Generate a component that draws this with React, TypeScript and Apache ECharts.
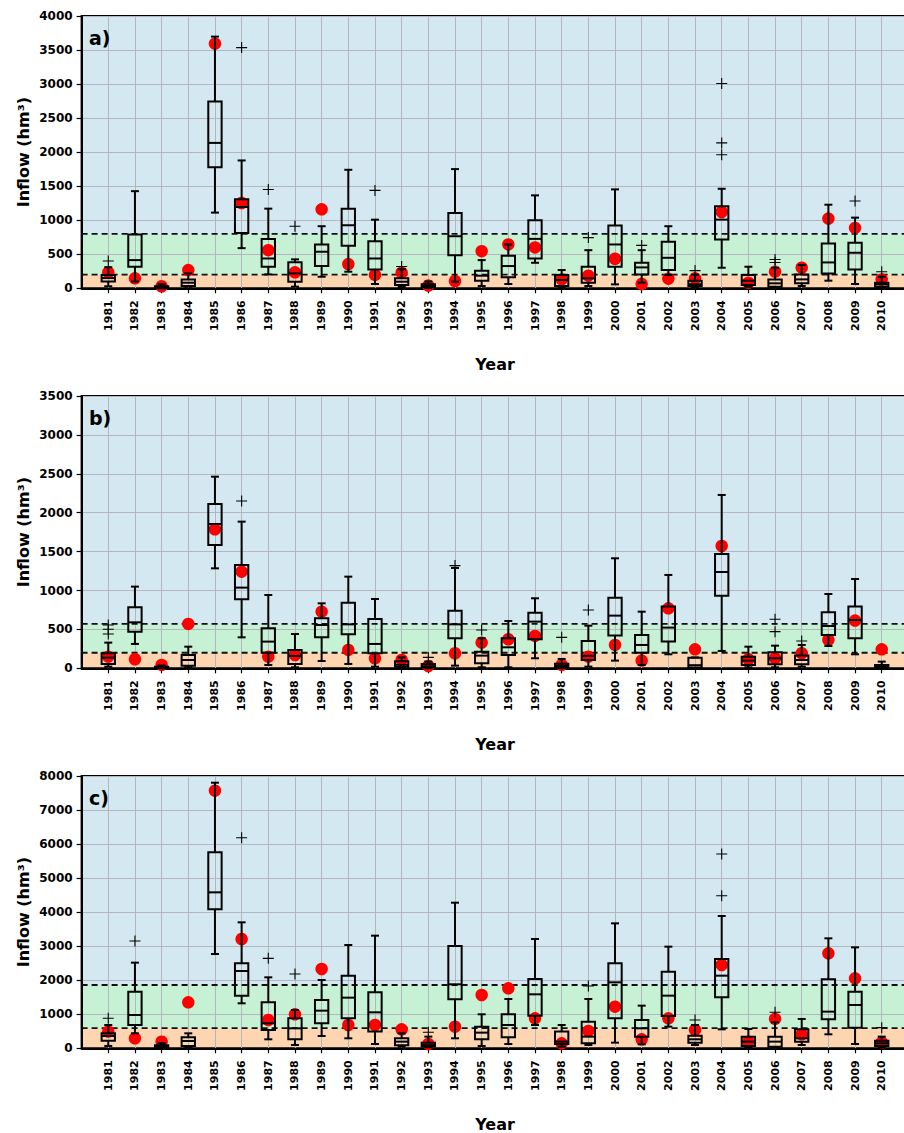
import React, { useEffect, useRef } from "react";
import * as echarts from "echarts";

const years = [1981, 1982, 1983, 1984, 1985, 1986, 1987, 1988, 1989, 1990, 1991, 1992, 1993, 1994, 1995, 1996, 1997, 1998, 1999, 2000, 2001, 2002, 2003, 2004, 2005, 2006, 2007, 2008, 2009, 2010];
const panelLabels = ["a)", "b)", "c)"];
const yMax = [4000, 3500, 8000];
const yStep = [500, 500, 1000];
const thresholdsA = [200, 800];
const thresholdsB = [200, 570];
const thresholdsC = [590, 1860];

// Panel a
const minA = [30, 100, 0, 24, 1112, 590, 204, 24, 170, 244, 63, 20, 5, 97, 33, 63, 375, 14, 33, 58, 83, 195, 10, 302, 24, 10, 33, 112, 63, 10];
const q1A = [100, 317, 5, 33, 1780, 814, 317, 97, 327, 624, 277, 49, 20, 487, 112, 161, 438, 33, 83, 317, 204, 268, 35, 717, 49, 24, 73, 219, 277, 24];
const medA = [150, 414, 15, 82, 2136, 1194, 438, 219, 537, 926, 438, 97, 35, 765, 185, 327, 726, 122, 146, 644, 307, 448, 60, 1009, 112, 73, 131, 380, 522, 58];
const q3A = [195, 789, 30, 130, 2745, 1307, 726, 381, 644, 1170, 692, 146, 60, 1107, 258, 478, 999, 195, 317, 922, 375, 683, 110, 1204, 195, 131, 204, 658, 668, 83];
const maxA = [310, 1427, 60, 219, 3697, 1878, 1170, 425, 912, 1741, 1008, 280, 100, 1751, 414, 644, 1365, 268, 560, 1453, 560, 912, 200, 1462, 317, 300, 341, 1228, 1038, 170];
const obsA = [235, 146, 30, 268, 3594, 1253, 560, 235, 1160, 356, 196, 229, 40, 107, 546, 644, 600, 130, 185, 434, 63, 141, 146, 1121, 83, 244, 302, 1024, 887, 131];
const outA = [[1981, 400], [1986, 3536], [1987, 1452], [1988, 912], [1991, 1438], [1992, 320], [1999, 745], [2001, 630], [2003, 260], [2004, 3008], [2004, 2136], [2004, 1961], [2006, 424], [2006, 380], [2009, 1282], [2010, 244]];

// Panel b
const minB = [21, 313, 0, 13, 1285, 398, 43, 13, 94, 56, 21, 5, 2, 34, 13, 13, 129, 2, 21, 99, 43, 180, 0, 223, 13, 13, 21, 287, 180, 0];
const q1B = [56, 471, 5, 34, 1585, 887, 201, 56, 398, 437, 193, 20, 13, 386, 64, 171, 373, 10, 107, 420, 201, 343, 10, 934, 43, 51, 51, 428, 386, 9];
const medB = [137, 591, 10, 107, 1855, 1037, 343, 159, 557, 565, 313, 45, 25, 565, 163, 270, 600, 30, 160, 677, 300, 523, 40, 1238, 99, 129, 107, 544, 621, 20];
const q3B = [193, 784, 20, 171, 2112, 1328, 514, 236, 643, 844, 634, 90, 56, 741, 214, 386, 715, 60, 351, 908, 428, 793, 135, 1469, 150, 206, 163, 720, 793, 43];
const maxB = [330, 1050, 35, 278, 2463, 1885, 942, 441, 835, 1178, 891, 140, 86, 1290, 386, 608, 900, 120, 548, 1414, 728, 1200, 140, 2228, 278, 291, 300, 955, 1148, 86];
const obsB = [150, 116, 43, 570, 1786, 1242, 150, 171, 728, 236, 129, 107, 30, 193, 330, 373, 416, 43, 150, 300, 99, 771, 244, 1572, 116, 129, 193, 364, 613, 244];
const outB = [[1981, 557], [1981, 501], [1981, 440], [1986, 2150], [1993, 140], [1994, 1320], [1995, 493], [1998, 398], [1999, 750], [2006, 630], [2006, 471], [2007, 351]];

// Panel c
const minC = [69, 440, 0, 29, 2771, 1322, 264, 98, 362, 294, 127, 49, 29, 294, 69, 127, 685, 49, 98, 166, 117, 636, 98, 558, 29, 20, 98, 411, 127, 29];
const q1C = [225, 685, 20, 69, 4082, 1547, 538, 264, 734, 881, 490, 88, 50, 1439, 264, 323, 959, 127, 147, 881, 343, 950, 166, 1498, 69, 49, 196, 852, 607, 69];
const medC = [362, 979, 50, 215, 4582, 2271, 734, 587, 1106, 1488, 1057, 196, 90, 1880, 460, 685, 1586, 196, 343, 1938, 587, 1547, 264, 2134, 196, 196, 294, 1077, 1273, 147];
const q3C = [440, 1664, 90, 323, 5757, 2496, 1351, 881, 1420, 2134, 1645, 294, 166, 3005, 636, 999, 2036, 490, 783, 2496, 832, 2252, 372, 2624, 343, 343, 558, 2027, 1664, 225];
const maxC = [685, 2516, 150, 440, 7803, 3701, 2085, 1126, 2007, 3035, 3309, 440, 343, 4278, 999, 1449, 3211, 685, 1449, 3671, 1253, 2986, 685, 3887, 568, 764, 862, 3231, 2966, 343];
const obsC = [490, 294, 196, 1351, 7568, 3211, 832, 999, 2330, 685, 685, 558, 127, 636, 1566, 1762, 881, 147, 509, 1224, 264, 881, 538, 2448, 196, 862, 411, 2790, 2056, 176];
const outC = [[1981, 881], [1982, 3152], [1986, 6187], [1987, 2643], [1988, 2183], [1993, 470], [1999, 1831], [2003, 832], [2004, 5708], [2004, 4484], [2006, 1057], [2010, 607]];

const BAND_COLORS = ["#fdd6b1", "#c6f1d5", "#d3e8f0"];
const FONT = "DejaVu Sans";

const panelData = [
  { min: minA, q1: q1A, med: medA, q3: q3A, max: maxA, obs: obsA, out: outA, thr: thresholdsA },
  { min: minB, q1: q1B, med: medB, q3: q3B, max: maxB, obs: obsB, out: outB, thr: thresholdsB },
  { min: minC, q1: q1C, med: medC, q3: q3C, max: maxC, obs: obsC, out: outC, thr: thresholdsC },
];

const GRID_TOPS = [16, 396, 776];
const GRID_H = 272.3;
const GRID_LEFT = 81.6;
const GRID_W = 826.8;
const X_MIN = 1980;
const X_MAX = 2011;

function buildOption() {
  const grid: any[] = [];
  const xAxis: any[] = [];
  const yAxis: any[] = [];
  const series: any[] = [];
  const title: any[] = [];

  panelData.forEach((p, i) => {
    grid.push({
      left: GRID_LEFT,
      top: GRID_TOPS[i],
      width: GRID_W,
      height: GRID_H,
      containLabel: false,
      outerBoundsMode: "none",
      show: true,
      borderColor: "#000",
      borderWidth: 2,
      backgroundColor: "transparent",
    });
    xAxis.push({
      type: "value",
      gridIndex: i,
      min: X_MIN,
      max: X_MAX,
      interval: 1,
      name: "Year",
      nameLocation: "middle",
      nameGap: 68,
      nameMoveOverlap: false,
      nameTextStyle: { fontFamily: FONT, fontWeight: "bold", fontSize: 16, lineHeight: 16, color: "#000" },
      axisLine: { show: true, lineStyle: { color: "#000", width: 2 } },
      axisTick: { show: true, length: 5, customValues: years, lineStyle: { color: "#000", width: 1.2 } },
      axisLabel: {
        customValues: years,
        rotate: 90,
        margin: 12,
        fontFamily: FONT,
        fontWeight: "bold",
        fontSize: 11,
        color: "#000",
        formatter: (v: number) => String(v),
      },
      splitLine: { show: true, lineStyle: { color: "#b4b6bd", width: 1 } },
    });
    yAxis.push({
      type: "value",
      gridIndex: i,
      min: 0,
      max: yMax[i],
      interval: yStep[i],
      name: "Inflow (hm³)",
      nameLocation: "middle",
      nameGap: 50,
      nameMoveOverlap: false,
      nameTextStyle: { fontFamily: FONT, fontWeight: "bold", fontSize: 16, color: "#000" },
      axisLine: { show: true, lineStyle: { color: "#000", width: 2 } },
      axisTick: { show: true, length: 5, lineStyle: { color: "#000", width: 1.2 } },
      axisLabel: {
        margin: 9,
        fontFamily: FONT,
        fontWeight: "bold",
        fontSize: 12,
        color: "#000",
        formatter: (v: number) => String(v),
      },
      splitLine: { show: true, lineStyle: { color: "#b4b6bd", width: 1 } },
    });
    title.push({
      text: panelLabels[i],
      left: 89,
      top: GRID_TOPS[i] + 12,
      padding: 0,
      textStyle: { fontFamily: FONT, fontWeight: "bold", fontSize: 19, color: "#000" },
    });

    const bounds = [0, p.thr[0], p.thr[1], yMax[i]];
    const bandRows = [
      [X_MIN, bounds[0], X_MAX, bounds[1]],
      [X_MIN, bounds[1], X_MAX, bounds[2]],
      [X_MIN, bounds[2], X_MAX, bounds[3]],
    ];
    series.push({
      type: "custom",
      xAxisIndex: i,
      yAxisIndex: i,
      z: -1,
      silent: true,
      encode: { x: [0, 2], y: [1, 3] },
      data: bandRows,
      renderItem: (params: any, api: any) => {
        const a = api.coord([api.value(0), api.value(1)]);
        const b = api.coord([api.value(2), api.value(3)]);
        return {
          type: "rect",
          shape: { x: a[0], y: b[1], width: b[0] - a[0], height: a[1] - b[1] },
          style: { fill: BAND_COLORS[params.dataIndex] },
        };
      },
    });
    series.push({
      type: "custom",
      xAxisIndex: i,
      yAxisIndex: i,
      z: 1,
      silent: true,
      encode: { x: [0, 2], y: 1 },
      data: p.thr.map((t) => [X_MIN, t, X_MAX]),
      renderItem: (params: any, api: any) => {
        const a = api.coord([api.value(0), api.value(1)]);
        const b = api.coord([api.value(2), api.value(1)]);
        return {
          type: "line",
          shape: { x1: a[0], y1: a[1], x2: b[0], y2: b[1] },
          style: { stroke: "#111", lineWidth: 1.8, lineDash: [6, 4] },
        };
      },
    });
    series.push({
      type: "scatter",
      xAxisIndex: i,
      yAxisIndex: i,
      z: 2,
      symbol: "circle",
      symbolSize: 12.5,
      itemStyle: { color: "#ff0000", opacity: 1 },
      data: years.map((y, k) => [y, p.obs[k]]),
    });
    series.push({
      type: "custom",
      xAxisIndex: i,
      yAxisIndex: i,
      z: 3,
      encode: { x: 0, y: [1, 2, 3, 4, 5] },
      data: years.map((y, k) => [y, p.min[k], p.q1[k], p.med[k], p.q3[k], p.max[k]]),
      renderItem: (params: any, api: any) => {
        const x = api.value(0);
        const lo = api.coord([x, api.value(1)]);
        const q1 = api.coord([x, api.value(2)]);
        const md = api.coord([x, api.value(3)]);
        const q3 = api.coord([x, api.value(4)]);
        const hi = api.coord([x, api.value(5)]);
        const unit = api.size([1, 0])[0];
        const hw = unit * 0.25;
        const cw = unit * 0.15;
        const c = lo[0];
        const st = { stroke: "#000", lineWidth: 2, fill: "none" };
        return {
          type: "group",
          children: [
            { type: "line", shape: { x1: c, y1: lo[1], x2: c, y2: q1[1] }, style: st },
            { type: "line", shape: { x1: c, y1: q3[1], x2: c, y2: hi[1] }, style: st },
            { type: "line", shape: { x1: c - cw, y1: lo[1], x2: c + cw, y2: lo[1] }, style: st },
            { type: "line", shape: { x1: c - cw, y1: hi[1], x2: c + cw, y2: hi[1] }, style: st },
            { type: "rect", shape: { x: c - hw, y: q3[1], width: 2 * hw, height: q1[1] - q3[1] }, style: st },
            { type: "line", shape: { x1: c - hw, y1: md[1], x2: c + hw, y2: md[1] }, style: st },
          ],
        };
      },
    });
    series.push({
      type: "scatter",
      xAxisIndex: i,
      yAxisIndex: i,
      z: 4,
      symbol: "path://M0,5L10,5M5,0L5,10",
      symbolSize: 11,
      itemStyle: { color: "transparent", borderColor: "#000", borderWidth: 1.1, opacity: 1 },
      data: p.out,
    });
  });

  return { animation: false, backgroundColor: "#fff", title, grid, xAxis, yAxis, series };
}

export default function App() {
  const ref = useRef<HTMLDivElement>(null);
  useEffect(() => {
    if (!ref.current) return;
    const chart = echarts.init(ref.current, undefined, { renderer: "svg" });
    chart.setOption(buildOption() as any);
    return () => chart.dispose();
  }, []);
  return (
    <div
      ref={ref}
      style={{ position: "absolute", left: 0, top: 0, width: 904, height: 1133, background: "#fff" }}
    />
  );
}
